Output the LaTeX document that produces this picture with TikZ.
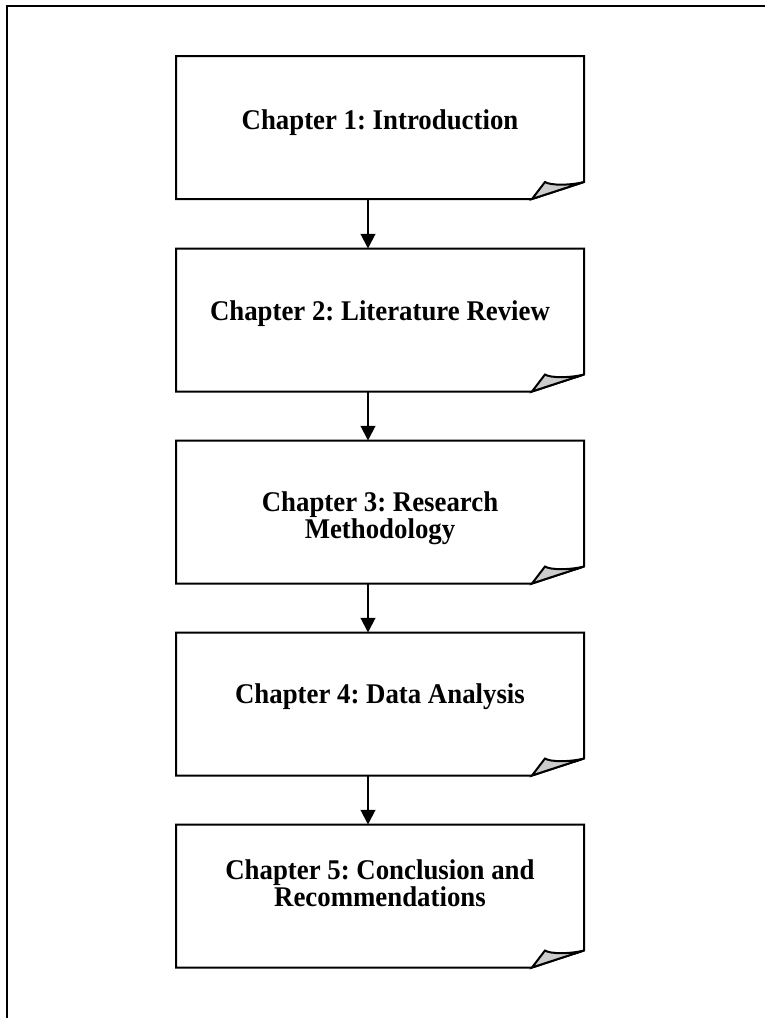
\documentclass[tikz,border=0pt]{standalone}
\usepackage{fontspec}
\setmainfont[FakeStretch=0.94]{Liberation Serif}
\usetikzlibrary{arrows.meta}
\begin{document}
\frenchspacing
\begin{tikzpicture}[x=0.75pt,y=-0.75pt,
  boxline/.style={line width=1.5pt, line join=miter},
  chapbox/.style={draw=none, shape=rectangle, minimum width=306pt, minimum height=107.25pt, inner sep=0pt, outer sep=0pt},
  chaptext/.style={inner sep=0pt, align=center, font=\fontsize{21.4pt}{18pt}\selectfont\bfseries},
  arr/.style={line width=1.5pt, -{Triangle[length=11pt,width=11pt]}},
  framepath/.style={line width=1.5pt}]
\useasboundingbox (0,0) rectangle (765,1018);
% outer frame
\draw[framepath] (765,6) -- (7,6) -- (7,1018);
% boxes
\node[chapbox] (b1) at (380,127.5) {};
\node[chapbox] (b2) at (380,320) {};
\node[chapbox] (b3) at (380,512) {};
\node[chapbox] (b4) at (380,704) {};
\node[chapbox] (b5) at (380,896) {};
\foreach \i in {1,...,5} {
  \draw[boxline, fill=white] (b\i.north west) -- (b\i.north east) -- ([yshift=12.75pt]b\i.south east) -- ([xshift=-39pt]b\i.south east) -- (b\i.south west) -- cycle;
  \draw[boxline, fill=black!20] ([xshift=-39pt]b\i.south east) -- ([xshift=-29.25pt,yshift=12.75pt]b\i.south east) .. controls ([xshift=-25.5pt,yshift=10.1pt]b\i.south east) and ([xshift=-10.5pt,yshift=10.1pt]b\i.south east) .. ([yshift=12.75pt]b\i.south east) -- cycle;
}
% texts
\node[chaptext] (t1) at (380,122.5) {Chapter 1: Introduction};
\node[chaptext] (t2) at (380,313.5) {Chapter 2: Literature Review};
\node[chaptext] (t3) at (380,518) {Chapter 3: Research\\Methodology};
\node[chaptext] (t4) at (380,697) {Chapter 4: Data Analysis};
\node[chaptext] (t5) at (380,883.5) {Chapter 5: Conclusion and\\Recommendations};
% arrows
\foreach \i/\j in {1/2,2/3,3/4,4/5} {
  \draw[arr] ([xshift=-9pt]b\i.south) -- ([xshift=-9pt]b\j.north);
}
\end{tikzpicture}
\end{document}
